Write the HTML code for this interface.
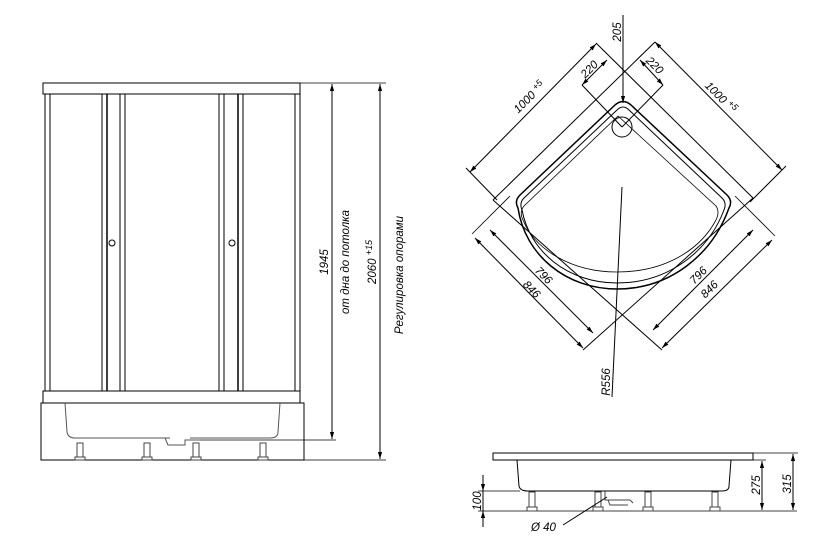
<!DOCTYPE html>
<html><head><meta charset="utf-8"><style>
html,body{margin:0;padding:0;background:#fff;}
svg{display:block;}
text{font-family:"Liberation Sans","DejaVu Sans",sans-serif;font-style:italic;fill:#000;}
</style></head><body>
<svg width="826" height="559" viewBox="0 0 826 559" xmlns="http://www.w3.org/2000/svg">
<defs>
<marker id="a" viewBox="0 0 10 10" refX="10" refY="5" markerWidth="7" markerHeight="7" orient="auto-start-reverse"><path d="M0,2 L10,5 L0,8 z" fill="#000"/></marker>
</defs>
<g fill="none" stroke="#000" stroke-width="1">
<rect x="43" y="83" width="257" height="11"/>
<line x1="45" y1="94" x2="45" y2="391"/><line x1="50" y1="94" x2="50" y2="391"/>
<line x1="295" y1="94" x2="295" y2="391"/><line x1="300" y1="94" x2="300" y2="391"/>
<line x1="102" y1="94" x2="102" y2="391"/><line x1="107" y1="94" x2="107" y2="391" stroke-width="1.5"/>
<line x1="120" y1="94" x2="120" y2="391"/><line x1="125" y1="94" x2="125" y2="391"/>
<line x1="219" y1="94" x2="219" y2="391"/><line x1="224" y1="94" x2="224" y2="391"/>
<line x1="238" y1="94" x2="238" y2="391" stroke-width="1.5"/><line x1="243" y1="94" x2="243" y2="391"/>
<circle cx="112" cy="243" r="3"/><circle cx="232" cy="243" r="3"/>
<rect x="43" y="391" width="257" height="12"/>
<rect x="41" y="403" width="263" height="57"/>
<path d="M65,403 L67,432 Q68,438 75,438 L170,438 M190,438 L270,438 Q278,438 278,432 L280,403" stroke="#555"/>
<path d="M165,438 L168,445 L185,445 L185,440 L200,440" stroke="#555"/>
<g stroke="#444">
<rect x="77" y="443" width="6" height="14"/><rect x="75" y="457" width="10" height="3"/>
<rect x="144" y="443" width="6" height="14"/><rect x="142" y="457" width="10" height="3"/>
<rect x="193" y="443" width="6" height="14"/><rect x="191" y="457" width="10" height="3"/>
<rect x="260" y="443" width="6" height="14"/><rect x="258" y="457" width="10" height="3"/>
</g>
<line x1="300" y1="83" x2="386" y2="83" stroke-width="0.8"/>
<line x1="200" y1="440" x2="336" y2="440" stroke-width="0.8"/>
<line x1="304" y1="460" x2="386" y2="460" stroke-width="0.8"/>
<line x1="332" y1="84" x2="332" y2="439" marker-start="url(#a)" marker-end="url(#a)"/>
<line x1="380" y1="84" x2="380" y2="459" marker-start="url(#a)" marker-end="url(#a)"/>

<!-- PLAN VIEW -->
<line x1="596" y1="43" x2="753" y2="198"/>
<line x1="655" y1="42" x2="493" y2="200"/>
<line x1="470" y1="172" x2="596" y2="44" marker-start="url(#a)" marker-end="url(#a)"/>
<line x1="655" y1="42" x2="782" y2="170" marker-start="url(#a)" marker-end="url(#a)"/>
<line x1="466" y1="168" x2="497" y2="200"/>
<line x1="786" y1="166" x2="750" y2="202"/>
<!-- tray -->
<path d="M615,105 Q623,98 631,105 L727,195 Q733,201 729,208 C712,255 670,289 617,289 C566,289 525,255 518,208 Q514,201 520,195 Z" stroke-width="1.5"/>
<path d="M617,110 Q623,104 629,110 L722,198 Q727,203 724,210 C708,252 668,283 617,283 C568,283 530,252 522,210 Q519,203 524,198 Z"/>
<path d="M618,116 L716,206 Q720,212 716,220 C700,250 665,272 617,272 C572,272 535,250 523,220 Q519,212 524,206 Z" stroke-width="0.8"/>
<circle cx="622" cy="127" r="10"/>
<line x1="622" y1="127" x2="582" y2="85"/><line x1="622" y1="127" x2="663" y2="85"/>
<line x1="582" y1="85" x2="607" y2="60" marker-start="url(#a)" marker-end="url(#a)"/>
<line x1="663" y1="85" x2="640" y2="60" marker-start="url(#a)" marker-end="url(#a)"/>
<line x1="623" y1="15" x2="623" y2="103" marker-end="url(#a)"/>
<line x1="493" y1="200" x2="662" y2="350"/>
<line x1="753" y1="198" x2="583" y2="350"/>
<line x1="475" y1="238" x2="583" y2="348" marker-start="url(#a)" marker-end="url(#a)"/>
<line x1="490" y1="230" x2="593" y2="333" marker-start="url(#a)" marker-end="url(#a)"/>
<line x1="772" y1="240" x2="662" y2="348" marker-start="url(#a)" marker-end="url(#a)"/>
<line x1="753" y1="230" x2="653" y2="330" marker-start="url(#a)" marker-end="url(#a)"/>
<line x1="472" y1="234" x2="510" y2="196" stroke-width="0.8"/>
<line x1="775" y1="236" x2="735" y2="196" stroke-width="0.8"/>
<line x1="622" y1="187" x2="612" y2="397"/>

<!-- SIDE VIEW -->
<rect x="493" y="453" width="260" height="7"/>
<path d="M517,460 L519,486 Q520,491 528,491 L722,491 Q729,491 729,486 L731,460"/>
<line x1="478" y1="491" x2="520" y2="491" stroke-width="0.8"/>
<line x1="478" y1="511" x2="797" y2="511" stroke-width="0.8"/>
<line x1="753" y1="453" x2="798" y2="453" stroke-width="0.8"/>
<line x1="731" y1="460" x2="766" y2="460" stroke-width="0.8"/>
<g stroke="#444">
<rect x="529" y="492" width="6" height="15"/><rect x="527" y="507" width="10" height="4"/>
<rect x="595" y="492" width="6" height="15"/><rect x="593" y="507" width="10" height="4"/>
<rect x="645" y="492" width="6" height="15"/><rect x="643" y="507" width="10" height="4"/>
<rect x="712" y="492" width="6" height="15"/><rect x="710" y="507" width="10" height="4"/>
<path d="M605,491 L605,500 L630,500 L633,503 M608,500 L610,505 L628,505"/>
</g>
<line x1="483" y1="475" x2="483" y2="491" marker-end="url(#a)"/>
<line x1="483" y1="527" x2="483" y2="511" marker-end="url(#a)"/>
<line x1="483" y1="491" x2="483" y2="511"/>
<line x1="762" y1="461" x2="762" y2="510" marker-start="url(#a)" marker-end="url(#a)"/>
<line x1="793" y1="454" x2="793" y2="510" marker-start="url(#a)" marker-end="url(#a)"/>
<line x1="607" y1="497" x2="563" y2="525"/>
</g>
<g font-size="11.5">
<text transform="translate(328,262) rotate(-90)" text-anchor="middle">1945</text>
<text transform="translate(349,262) rotate(-90)" text-anchor="middle">от дна до потолка</text>
<text transform="translate(376,262) rotate(-90)" text-anchor="middle">2060 <tspan dy="-4" font-size="9">+15</tspan></text>
<text transform="translate(403,275) rotate(-90)" text-anchor="middle">Регулировка опорами</text>

<text transform="translate(621,32) rotate(-90)" text-anchor="middle">205</text>
<text transform="translate(592,72) rotate(-45)" text-anchor="middle">220</text>
<text transform="translate(652,68) rotate(45)" text-anchor="middle">220</text>
<text transform="translate(532,100) rotate(-45)" text-anchor="middle">1000 <tspan dy="-4" font-size="9">+5</tspan></text>
<text transform="translate(718,100) rotate(45)" text-anchor="middle">1000 <tspan dy="-4" font-size="9">+5</tspan></text>
<text transform="translate(541,278) rotate(45)" text-anchor="middle">796</text>
<text transform="translate(529,292) rotate(45)" text-anchor="middle">846</text>
<text transform="translate(701,278) rotate(-45)" text-anchor="middle">796</text>
<text transform="translate(712,292) rotate(-45)" text-anchor="middle">846</text>
<text transform="translate(610,382) rotate(-90)" text-anchor="middle">R556</text>

<text transform="translate(481,501) rotate(-90)" text-anchor="middle">100</text>
<text transform="translate(760,485) rotate(-90)" text-anchor="middle">275</text>
<text transform="translate(791,484) rotate(-90)" text-anchor="middle">315</text>
<text x="531" y="531">Ø 40</text>
</g>
</svg>
</body></html>
